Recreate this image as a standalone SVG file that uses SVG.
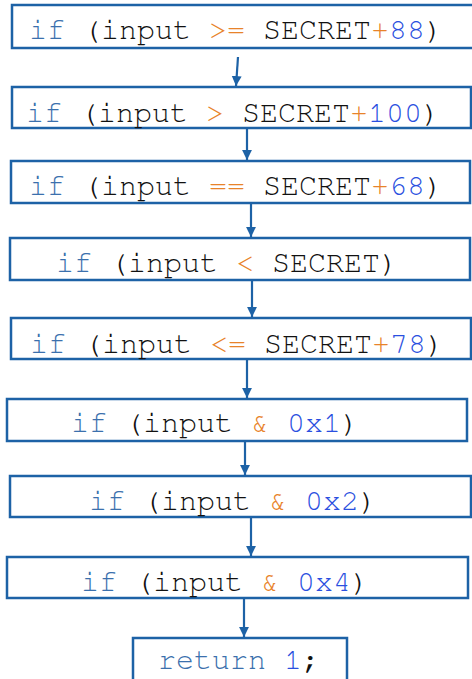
<svg xmlns="http://www.w3.org/2000/svg" width="472" height="679" viewBox="0 0 472 679">
  <style>
    .box { fill: #ffffff; stroke: #1d62a6; stroke-width: 2.5; }
    .code { font-family: "Nimbus Mono PS", "FreeMono", "Courier New", "Liberation Mono", monospace; font-size: 30px; fill: #111111; }
    .kw { fill: #3b70ad; }
    .op { fill: #e8832a; }
    .num { fill: #2a4fe0; }
    .edge { stroke: #1d62a6; stroke-width: 2.2; fill: none; marker-end: url(#head); }
  </style>
  <defs>
    <marker id="head" viewBox="0 0 10 10" refX="10" refY="5" markerWidth="4.5" markerHeight="5.5" orient="auto" markerUnits="strokeWidth">
      <path d="M0,0 L10,5 L0,10 Z" fill="#1d62a6"/>
    </marker>
  </defs>
  <rect width="472" height="679" fill="#ffffff"/>

  <g id="connectors">
    <line class="edge" x1="238" y1="57" x2="236" y2="86"/>
    <line class="edge" x1="247" y1="128" x2="247" y2="160"/>
    <line class="edge" x1="251" y1="203" x2="251" y2="237"/>
    <line class="edge" x1="252" y1="280" x2="252" y2="317"/>
    <line class="edge" x1="247" y1="359" x2="247" y2="398"/>
    <line class="edge" x1="245" y1="441" x2="245" y2="475"/>
    <line class="edge" x1="251" y1="517" x2="251" y2="556"/>
    <line class="edge" x1="244" y1="598" x2="244" y2="637"/>
  </g>

  <g id="n1">
    <rect class="box" x="12" y="5" width="462" height="43"/>
    <text class="code" x="29" y="39"><tspan class="kw">if</tspan> (input <tspan class="op">&gt;=</tspan> SECRET<tspan class="op">+</tspan><tspan class="num">88</tspan>)</text>
  </g>
  <g id="n2">
    <rect class="box" x="12" y="87" width="459" height="41"/>
    <text class="code" x="26" y="122"><tspan class="kw">if</tspan> (input <tspan class="op">&gt;</tspan> SECRET<tspan class="op">+</tspan><tspan class="num">100</tspan>)</text>
  </g>
  <g id="n3">
    <rect class="box" x="11" y="161" width="459" height="42"/>
    <text class="code" x="29" y="195"><tspan class="kw">if</tspan> (input <tspan class="op">==</tspan> SECRET<tspan class="op">+</tspan><tspan class="num">68</tspan>)</text>
  </g>
  <g id="n4">
    <rect class="box" x="10" y="238" width="460" height="42"/>
    <text class="code" x="56" y="272"><tspan class="kw">if</tspan> (input <tspan class="op">&lt;</tspan> SECRET)</text>
  </g>
  <g id="n5">
    <rect class="box" x="11" y="318" width="460" height="41"/>
    <text class="code" x="30" y="353"><tspan class="kw">if</tspan> (input <tspan class="op">&lt;=</tspan> SECRET<tspan class="op">+</tspan><tspan class="num">78</tspan>)</text>
  </g>
  <g id="n6">
    <rect class="box" x="7" y="399" width="460" height="42"/>
    <text class="code" x="71" y="432"><tspan class="kw">if</tspan> (input <tspan class="op">&amp;</tspan> <tspan class="num">0x1</tspan>)</text>
  </g>
  <g id="n7">
    <rect class="box" x="10" y="476" width="461" height="41"/>
    <text class="code" x="89" y="510"><tspan class="kw">if</tspan> (input <tspan class="op">&amp;</tspan> <tspan class="num">0x2</tspan>)</text>
  </g>
  <g id="n8">
    <rect class="box" x="7" y="557" width="461" height="41"/>
    <text class="code" x="81" y="591"><tspan class="kw">if</tspan> (input <tspan class="op">&amp;</tspan> <tspan class="num">0x4</tspan>)</text>
  </g>
  <g id="n9">
    <rect class="box" x="133" y="638" width="214" height="60"/>
    <text class="code" x="158" y="669"><tspan class="kw">return</tspan> <tspan class="num">1</tspan>;</text>
  </g>
</svg>
